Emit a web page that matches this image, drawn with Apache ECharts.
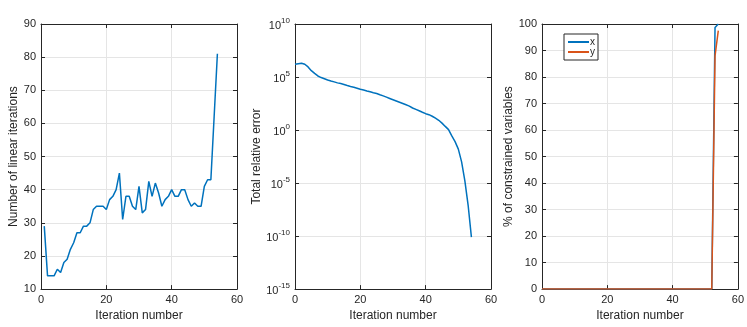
<!DOCTYPE html>
<html>
<head>
<meta charset="utf-8">
<script src="https://cdn.jsdelivr.net/npm/echarts@6/dist/echarts.min.js"></script>
<style>
  html, body { margin: 0; padding: 0; background: #fff; }
  #main { width: 747px; height: 327px; }
</style>
</head>
<body>
<div id="main"></div>
<script>
// 各子图的数据
const linearIters = [29, 14, 14, 14, 16, 15, 18, 19, 22, 24, 27, 27, 29, 29, 30, 34, 35, 35, 35, 34,
  37, 38, 40, 45, 31, 38, 38, 35, 34, 41, 33, 34, 42.5, 38, 42, 39, 35, 37, 38, 40,
  38, 38, 40, 40, 37, 35, 36, 35, 35, 41, 43, 43, 62, 81]
const relError = [1.6e6, 1.8e6, 2.0e6, 1.6e6, 8.9e5, 4.0e5, 2.2e5, 1.26e5, 8.9e4, 6.8e4,
  5.2e4, 4.2e4, 3.5e4, 2.8e4, 2.4e4, 2.0e4, 1.6e4, 1.3e4, 1.1e4, 8.9e3,
  7.1e3, 5.9e3, 4.8e3, 4.0e3, 3.3e3, 2.75e3, 2.1e3, 1.66e3, 1.26e3, 955,
  724, 550, 417, 316, 240, 182, 120, 89, 66, 48,
  35, 28, 20, 13, 8.3, 4.5, 2.2, 1.1, 0.28, 0.08,
  0.016, 1e-3, 1.6e-5, 8e-8, 8e-11]
const constrainedX = [0, 0, 0, 0, 0, 0, 0, 0, 0, 0, 0, 0, 0, 0, 0, 0, 0, 0, 0, 0,
  0, 0, 0, 0, 0, 0, 0, 0, 0, 0, 0, 0, 0, 0, 0, 0, 0, 0, 0, 0,
  0, 0, 0, 0, 0, 0, 0, 0, 0, 0, 0, 0, 0, 98.7, 100]
const constrainedY = [0, 0, 0, 0, 0, 0, 0, 0, 0, 0, 0, 0, 0, 0, 0, 0, 0, 0, 0, 0,
  0, 0, 0, 0, 0, 0, 0, 0, 0, 0, 0, 0, 0, 0, 0, 0, 0, 0, 0, 0,
  0, 0, 0, 0, 0, 0, 0, 0, 0, 0, 0, 0, 0, 88, 97.5]

const dark = '#262626'
const gridColor = '#e5e5e5'
const blue = '#0072BD'
const orange = '#D95319'
const font = 'Liberation Sans'

const myChart = echarts.init(document.getElementById('main'))

// 坐标轴通用样式（刻度朝内，四边都有框）
function axisBase(extra) {
  return Object.assign({
    axisLine: { show: true, onZero: false, lineStyle: { color: dark, width: 1 } },
    axisTick: { show: true, inside: true, length: 4, lineStyle: { color: dark } },
    axisLabel: { color: dark, fontSize: 11, fontFamily: font, margin: 5 },
    splitLine: { show: true, lineStyle: { color: gridColor, width: 1 } },
    nameTextStyle: { color: dark, fontSize: 12, fontFamily: font },
    nameLocation: 'middle'
  }, extra)
}
function mirror(base) {
  const a = Object.assign({}, base)
  a.axisLabel = { show: false }
  a.splitLine = { show: false }
  a.name = ''
  return a
}

const grids = [
  { left: 41, top: 24, width: 196, height: 267 },
  { left: 295, top: 24, width: 196, height: 267 },
  { left: 542, top: 24, width: 197, height: 267 }
]

const xAxes = []
const yAxes = []
grids.forEach((g, i) => {
  const x = axisBase({ type: 'value', gridIndex: i, min: 0, max: 60, interval: 20,
    name: 'Iteration number', nameGap: 16, position: 'bottom' })
  xAxes.push(x)
  xAxes.push(Object.assign(mirror(x), { position: 'top' }))
})

const yLeft = axisBase({ type: 'value', gridIndex: 0, min: 10, max: 90, interval: 10,
  name: 'Number of linear iterations', nameGap: 17, position: 'left' })
const yMid = axisBase({ type: 'log', logBase: 10, gridIndex: 1, min: 1e-15, max: 1e10, interval: 5,
  name: 'Total relative error', nameGap: 32, position: 'left' })
yMid.axisLabel = {
  color: dark, fontFamily: font, margin: 5,
  formatter: v => '{b|10}{e|' + Math.round(Math.log10(v)) + '}',
  rich: {
    b: { fontSize: 11, color: dark, fontFamily: font, verticalAlign: 'bottom' },
    e: { fontSize: 8, color: dark, fontFamily: font, verticalAlign: 'bottom', padding: [0, 0, 6, 0] }
  }
}
const yRight = axisBase({ type: 'value', gridIndex: 2, min: 0, max: 100, interval: 10,
  name: '% of constrained variables', nameGap: 23, position: 'left' })

;[yLeft, yMid, yRight].forEach(y => {
  yAxes.push(y)
  yAxes.push(Object.assign(mirror(y), { position: 'right' }))
})

const lineStyle = (c) => ({ color: c, width: 1.5 })

const option = {
  backgroundColor: '#fff',
  animation: false,
  textStyle: { fontFamily: font },
  grid: grids,
  xAxis: xAxes,
  yAxis: yAxes,
  legend: {
    data: ['x', 'y'],
    orient: 'vertical',
    left: 564,
    top: 34,
    icon: 'rect',
    padding: [3, 3, 3, 4],
    itemGap: 0,
    itemWidth: 21,
    itemHeight: 2,
    backgroundColor: '#fff',
    borderColor: dark,
    borderWidth: 1,
    borderRadius: 0,
    textStyle: { color: dark, fontSize: 10, fontFamily: font, lineHeight: 10, padding: [0, 0, 0, -4] }
  },
  series: [
    {
      type: 'line', xAxisIndex: 0, yAxisIndex: 0, symbol: 'none',
      data: linearIters.map((v, i) => [i + 1, v]),
      lineStyle: lineStyle(blue), itemStyle: { color: blue }
    },
    {
      type: 'line', xAxisIndex: 2, yAxisIndex: 2, symbol: 'none',
      data: relError.map((v, i) => [i, v]),
      lineStyle: lineStyle(blue), itemStyle: { color: blue }
    },
    {
      name: 'x', type: 'line', xAxisIndex: 4, yAxisIndex: 4, symbol: 'none',
      data: constrainedX.map((v, i) => [i, v]),
      lineStyle: lineStyle(blue), itemStyle: { color: blue }
    },
    {
      name: 'y', type: 'line', xAxisIndex: 4, yAxisIndex: 4, symbol: 'none',
      data: constrainedY.map((v, i) => [i, v]),
      lineStyle: lineStyle(orange), itemStyle: { color: orange }
    }
  ]
}

myChart.setOption(option)
</script>
</body>
</html>
